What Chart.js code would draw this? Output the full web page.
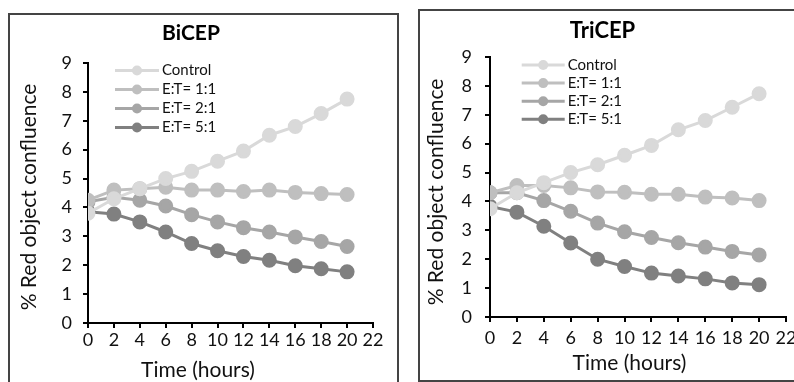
<!DOCTYPE html>
<html><head><meta charset="utf-8">
<script src="https://cdn.jsdelivr.net/npm/chart.js@4"></script>
<style>
html,body{margin:0;padding:0;width:794px;height:382px;overflow:hidden;background:#fff;}
.box{position:absolute;border:2px solid #444;box-sizing:border-box;}
.wrap{position:absolute;}
canvas{display:block;}
</style></head><body>
<div class="box" style="left:8px;top:13px;width:391px;height:400px"></div>
<div class="box" style="left:418px;top:9px;width:430px;height:373px"></div>
<div class="wrap" style="left:9px;top:14px;width:389px;height:368px"><canvas id="c1" width="389" height="368"></canvas></div>
<div class="wrap" style="left:419px;top:10px;width:396px;height:371px"><canvas id="c2" width="396" height="371"></canvas></div>
<script>
const hours = [0, 2, 4, 6, 8, 10, 12, 14, 16, 18, 20];
const seriesLabels = ['Control', 'E:T= 1:1', 'E:T= 2:1', 'E:T= 5:1'];
const seriesColors = ['#d9d9d9', '#bfbfbf', '#a6a6a6', '#808080'];
const yTicks = [0, 1, 2, 3, 4, 5, 6, 7, 8, 9];
const xTicks = [0, 2, 4, 6, 8, 10, 12, 14, 16, 18, 20, 22];

const bicepControl = [3.8, 4.3, 4.65, 5.0, 5.25, 5.6, 5.95, 6.5, 6.8, 7.25, 7.75];
const bicep11 = [4.25, 4.6, 4.65, 4.7, 4.6, 4.6, 4.55, 4.6, 4.52, 4.48, 4.45];
const bicep21 = [4.2, 4.35, 4.25, 4.05, 3.75, 3.5, 3.3, 3.15, 2.98, 2.82, 2.65];
const bicep51 = [3.85, 3.77, 3.5, 3.15, 2.75, 2.5, 2.3, 2.17, 1.98, 1.88, 1.77];

const tricepControl = [3.75, 4.3, 4.65, 5.0, 5.27, 5.6, 5.94, 6.48, 6.8, 7.26, 7.73];
const tricep11 = [4.3, 4.55, 4.55, 4.47, 4.33, 4.32, 4.25, 4.25, 4.15, 4.12, 4.03];
const tricep21 = [4.3, 4.3, 4.03, 3.66, 3.25, 2.95, 2.75, 2.57, 2.42, 2.27, 2.15];
const tricep51 = [3.83, 3.63, 3.14, 2.56, 2.0, 1.75, 1.52, 1.42, 1.32, 1.18, 1.12];

const FONT = 'Lato, Carlito, "Open Sans", sans-serif';

const extras = {
  id: 'extras',
  afterDraw(chart, args, opts) {
    const ctx = chart.ctx;
    ctx.save();
    const L = opts.legend;
    chart.data.datasets.forEach((ds, i) => {
      const y = L.y + i * L.rowH;
      ctx.strokeStyle = ds.borderColor;
      ctx.lineWidth = ds.borderWidth;
      ctx.beginPath(); ctx.moveTo(L.x, y); ctx.lineTo(L.x + L.lineLen, y); ctx.stroke();
      ctx.fillStyle = ds.backgroundColor;
      ctx.beginPath(); ctx.arc(L.x + L.lineLen / 2, y, L.r, 0, Math.PI * 2); ctx.fill();
      ctx.fillStyle = '#111';
      ctx.font = L.font;
      ctx.textAlign = 'left'; ctx.textBaseline = 'middle';
      ctx.fillText(ds.label, L.x + L.lineLen + L.gap, y);
    });
    const T = opts.titles;
    ctx.fillStyle = '#111';
    ctx.font = T.font;
    ctx.textAlign = 'center'; ctx.textBaseline = 'middle';
    ctx.fillText(T.xText, T.xPos[0], T.xPos[1]);
    ctx.translate(T.yPos[0], T.yPos[1]);
    ctx.rotate(-Math.PI / 2);
    ctx.fillText(T.yText, 0, 0);
    ctx.restore();
  }
};

function makeChart(id, title, series, geo) {
  const datasets = series.map((vals, i) => ({
    label: seriesLabels[i],
    data: hours.map((h, j) => ({ x: h, y: vals[j] })),
    borderColor: seriesColors[i],
    backgroundColor: seriesColors[i],
    pointBackgroundColor: seriesColors[i],
    pointBorderColor: seriesColors[i],
    borderWidth: 3,
    pointRadius: 6,
    pointHoverRadius: 6,
    tension: 0
  }));
  return new Chart(document.getElementById(id), {
    type: 'line',
    data: { datasets },
    plugins: [extras],
    options: {
      responsive: false,
      animation: false,
      events: [],
      layout: { padding: { left: 0, right: geo.padRight, top: 0, bottom: 0 } },
      plugins: {
        legend: { display: false },
        tooltip: { enabled: false },
        title: {
          display: true, text: title, color: '#000',
          font: { family: FONT, size: geo.titleSize, weight: 'bold', lineHeight: 1.2 },
          padding: { top: geo.titleTop, bottom: geo.titleBottom }
        },
        extras: {
          legend: { x: geo.legX, y: geo.legY, rowH: geo.legRow, lineLen: geo.legLen, gap: 3, r: 5,
                    font: '15px ' + FONT },
          titles: { font: '21px ' + FONT, xText: 'Time (hours)', yText: '% Red object confluence',
                    xPos: geo.xTitle, yPos: geo.yTitle }
        }
      },
      scales: {
        x: {
          type: 'linear', min: 0, max: 22,
          afterBuildTicks: s => { s.ticks = xTicks.map(v => ({ value: v })); },
          afterFit: s => { s.height = geo.xH; },
          grid: { drawOnChartArea: false, drawTicks: true, tickLength: 5, color: '#000', lineWidth: 2 },
          border: { display: true, color: '#000', width: 2 },
          ticks: { color: '#111', padding: geo.xPad, maxRotation: 0, autoSkip: false,
                   font: { family: FONT, size: 18 } }
        },
        y: {
          type: 'linear', min: 0, max: 9,
          afterBuildTicks: s => { s.ticks = yTicks.map(v => ({ value: v })); },
          afterFit: s => { s.width = geo.yW; },
          grid: { drawOnChartArea: false, drawTicks: true, tickLength: 5, color: '#000', lineWidth: 2 },
          border: { display: true, color: '#000', width: 2 },
          ticks: { color: '#111', padding: geo.yPad, font: { family: FONT, size: 18 } }
        }
      }
    }
  });
}

makeChart('c1', 'BiCEP', [bicepControl, bicep11, bicep21, bicep51], {
  padRight: 25, titleSize: 21, titleTop: 6.4, titleBottom: 17.4, xH: 59, yW: 79, xPad: 1, yPad: 11,
  legX: 106, legY: 56.5, legRow: 19, legLen: 44, xTitle: [189, 356], yTitle: [20.5, 183]
});
makeChart('c2', 'TriCEP', [tricepControl, tricep11, tricep21, tricep51], {
  padRight: 29, titleSize: 22, titleTop: 7.8, titleBottom: 12.8, xH: 64, yW: 71, xPad: 5, yPad: 13,
  legX: 102.7, legY: 55, legRow: 18.1, legLen: 43, xTitle: [210.5, 353], yTitle: [17.5, 182]
});
</script>
</body></html>
